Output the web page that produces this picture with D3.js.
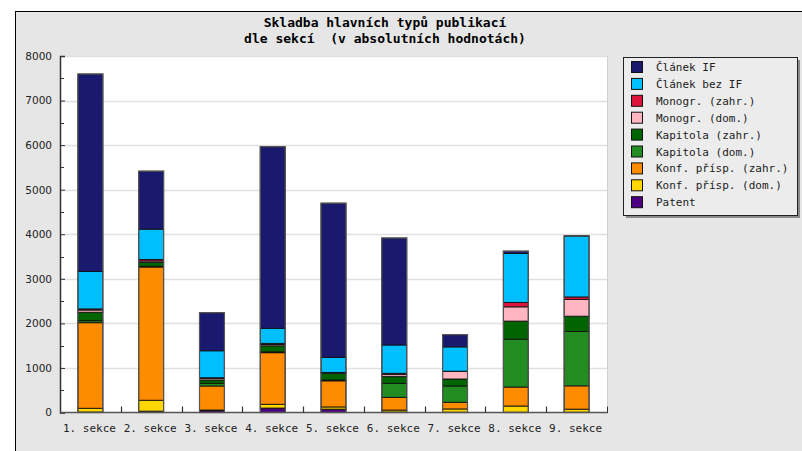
<!DOCTYPE html>
<html><head><meta charset="utf-8">
<script src="https://cdn.jsdelivr.net/npm/d3@7"></script>
<style>body{margin:0;background:#fff;}svg{display:block;}</style>
</head><body><svg id="c" width="802" height="451"></svg>
<script>
const categories = ["1. sekce","2. sekce","3. sekce","4. sekce","5. sekce","6. sekce","7. sekce","8. sekce","9. sekce"];
const seriesNames = ["Článek IF","Článek bez IF","Monogr. (zahr.)","Monogr. (dom.)","Kapitola (zahr.)","Kapitola (dom.)","Konf. přísp. (zahr.)","Konf. přísp. (dom.)","Patent"];
const seriesColors = ["#191970","#00bfff","#dc143c","#ffb6c1","#006400","#228b22","#ff8c00","#ffd700","#4b0082"];
const clanekIF     = [4430,1300, 855,4075,3460,2400, 276,  51,   3];
const clanekBezIF  = [ 840, 680, 605, 337, 337, 635, 545,1099,1368];
const monogrZahr   = [  25,  35,  15,  25,  10,  30,   5,  99,  58];
const monogrDom    = [  50,  30,  35,  30,  10,  45, 170, 320, 374];
const kapitolaZahr = [ 190,  90,  75, 135, 150, 150, 157, 404, 343];
const kapitolaDom  = [  45,  15,  60,  20,  20, 315, 365,1076,1220];
const konfZahr     = [1920,2990, 540,1157, 585, 285, 150, 426, 523];
const konfDom      = [  85, 245,  15,  85,  50,  45,  75, 140,  70];
const patent       = [  10,  30,  40, 100,  75,  10,   5,   5,   5];
const yTicks = [0,1000,2000,3000,4000,5000,6000,7000,8000];
const titleLines = ["Skladba hlavních typů publikací","dle sekcí  (v absolutních hodnotách)"];

const seriesValues = [clanekIF,clanekBezIF,monogrZahr,monogrDom,kapitolaZahr,kapitolaDom,konfZahr,konfDom,patent];
// stacking order bottom -> top
const stackOrder = [8,7,6,5,4,3,2,1,0];
const table = categories.map((c,i)=>{const o={cat:c}; seriesNames.forEach((s,j)=>o[s]=seriesValues[j][i]); return o;});

const svg = d3.select("#c");
// outer frame
svg.append("rect").attr("x",15.5).attr("y",11.5).attr("width",900).attr("height",600)
  .attr("fill","#e6e6e6").attr("stroke","#000").attr("stroke-width",1);

const L=60,T=56,R=607,B=412.5;
const x = d3.scaleBand().domain(categories).range([L,R]).paddingInner(0.59).paddingOuter(0.295);
const xb = d3.scaleBand().domain(categories).range([L,R]);
const y = d3.scaleLinear().domain([0,8000]).range([B,T]);

svg.append("rect").attr("x",L).attr("y",T).attr("width",R-L).attr("height",B-T).attr("fill","#fff");
// grid
svg.append("g").selectAll("line").data(yTicks.slice(1)).join("line")
  .attr("x1",L).attr("x2",R).attr("y1",d=>Math.round(y(d))+0.5).attr("y2",d=>Math.round(y(d))+0.5)
  .attr("stroke","#e0e0e0").attr("stroke-width",1.5);
svg.append("line").attr("x1",R+0.5).attr("x2",R+0.5).attr("y1",T).attr("y2",B).attr("stroke","#d0d0d0");

// bars
const stack = d3.stack().keys(stackOrder.map(i=>seriesNames[i]));
const layers = stack(table);
const g = svg.append("g");
layers.forEach(layer=>{
  const ci = seriesNames.indexOf(layer.key);
  g.append("g").selectAll("rect").data(layer).join("rect")
    .attr("x",d=>x(d.data.cat)).attr("width",x.bandwidth())
    .attr("y",d=>y(d[1])).attr("height",d=>Math.max(0,y(d[0])-y(d[1])))
    .attr("fill",seriesColors[ci]).attr("stroke","#111").attr("stroke-width",0.9);
});
// outer bar outline
g.append("g").selectAll("rect").data(layers[layers.length-1]).join("rect")
  .attr("x",d=>x(d.data.cat)).attr("width",x.bandwidth())
  .attr("y",d=>y(d[1])).attr("height",d=>y(0)-y(d[1]))
  .attr("fill","none").attr("stroke","#555").attr("stroke-width",1.2);

// y axis
const yAxis = d3.axisLeft(y).tickValues(yTicks).tickSize(-5).tickPadding(8).tickFormat(d3.format("d"));
const ya = svg.append("g").attr("transform",`translate(${L},0)`).call(yAxis);
ya.select(".domain").attr("stroke","#333").attr("stroke-width",1.5);
ya.selectAll(".tick line").attr("stroke","#333");
ya.selectAll("text").attr("font-family","DejaVu Sans").attr("font-size","10.5px").attr("fill","#222");
const minor = d3.range(500,8000,1000);
svg.append("g").selectAll("line").data(minor).join("line")
  .attr("x1",L).attr("x2",L+4).attr("y1",d=>Math.round(y(d))+0.5).attr("y2",d=>Math.round(y(d))+0.5)
  .attr("stroke","#333");

// x axis
svg.append("line").attr("x1",L).attr("x2",R+1).attr("y1",B).attr("y2",B).attr("stroke","#555").attr("stroke-width",1.5);
svg.append("g").selectAll("line").data(categories.slice(1)).join("line")
  .attr("x1",d=>Math.round(xb(d))+0.5).attr("x2",d=>Math.round(xb(d))+0.5).attr("y1",B).attr("y2",B-6)
  .attr("stroke","#333").attr("stroke-width",1.2);
svg.append("line").attr("x1",R+0.5).attr("x2",R+0.5).attr("y1",B).attr("y2",B-6).attr("stroke","#333");
svg.append("g").selectAll("text").data(categories).join("text")
  .attr("x",d=>xb(d)+xb.bandwidth()/2-1).attr("y",432)
  .attr("text-anchor","middle").attr("font-family","DejaVu Sans Mono").attr("font-size","11px").attr("fill","#222")
  .text(d=>d);

// title
svg.append("g").selectAll("text").data(titleLines).join("text")
  .attr("x",385).attr("y",(d,i)=>27+i*16).attr("text-anchor","middle")
  .attr("font-family","DejaVu Sans Mono").attr("font-weight","bold").attr("font-size","13px").attr("fill","#000")
  .attr("xml:space","preserve").style("white-space","pre")
  .text(d=>d);

// legend
const lx=623, ly=57, lw=174, lh=158;
svg.append("rect").attr("x",lx+3).attr("y",ly+3).attr("width",lw).attr("height",lh).attr("fill","#8a8a8a");
svg.append("rect").attr("x",lx+0.5).attr("y",ly+0.5).attr("width",lw).attr("height",lh).attr("fill","#ececec").attr("stroke","#222");
const lg = svg.append("g").selectAll("g").data(seriesNames).join("g")
  .attr("transform",(d,i)=>`translate(${lx+8},${ly+4+i*16.9})`);
lg.append("rect").attr("x",0.5).attr("y",0.5).attr("width",11).attr("height",11)
  .attr("fill",(d,i)=>seriesColors[i]).attr("stroke","#111");
lg.append("text").attr("x",25).attr("y",10).attr("font-family","DejaVu Sans Mono").attr("font-size","11px").attr("fill","#222")
  .text(d=>d);
</script></body></html>
